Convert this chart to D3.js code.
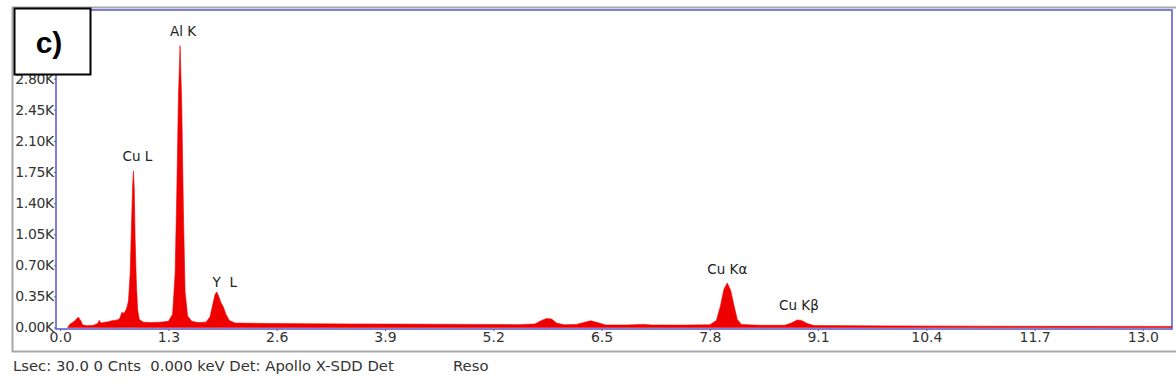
<!DOCTYPE html>
<html><head><meta charset="utf-8">
<script src="https://cdn.jsdelivr.net/npm/d3@7"></script>
<style>body{margin:0;background:#fff}svg{display:block}</style>
</head><body>
<svg id="c" width="1176" height="392"></svg>
<script>
// energy (keV) and counts
const energy = [0.09,0.12,0.17,0.20,0.22,0.25,0.27,0.32,0.40,0.45,0.47,0.49,0.52,0.58,0.62,0.66,0.70,0.72,0.74,0.76,0.78,0.80,0.82,0.84,0.855,0.87,0.88,0.89,0.90,0.915,0.93,0.95,1.00,1.10,1.20,1.30,1.35,1.38,1.40,1.42,1.44,1.46,1.48,1.50,1.53,1.58,1.65,1.75,1.80,1.83,1.86,1.88,1.90,1.93,1.96,1.99,2.03,2.10,2.50,3.00,3.50,4.00,4.50,5.00,5.50,5.70,5.78,5.84,5.90,5.96,6.05,6.20,6.30,6.37,6.45,6.55,6.80,7.00,7.10,7.50,7.80,7.88,7.93,7.97,8.01,8.05,8.09,8.13,8.18,8.40,8.70,8.78,8.85,8.90,8.97,9.05,10.0,11.0,12.0,13.35];
const counts = [0,40,70,100,115,70,30,20,25,45,80,50,55,65,75,80,90,110,170,160,180,220,300,600,1100,1600,1760,1550,1000,500,200,90,60,55,60,70,150,600,1500,2600,3170,2500,1300,400,130,70,55,60,120,250,370,400,360,280,230,150,80,50,45,42,40,38,36,35,32,40,80,100,95,50,30,35,60,75,55,28,28,35,28,27,30,80,250,430,500,420,250,90,35,25,25,50,85,80,45,22,18,15,13,12];
const xTicks = [0.0,1.3,2.6,3.9,5.2,6.5,7.8,9.1,10.4,11.7,13.0];
const yTicks = [0,350,700,1050,1400,1750,2100,2450,2800,3150];
const peakNames = ["Al K","Cu L","Y  L","Cu K\u03b1","Cu K\u03b2"];
const peakEnergy = [1.44,0.88,1.88,8.01,8.87];
const peakCounts = [3170,1760,400,500,87];
const footer = "Lsec: 30.0 0 Cnts  0.000 keV Det: Apollo X-SDD Det";
const footer2 = "Reso";

const svg = d3.select("#c");
const L=56, R=1172, T=10, B=329;
const x = d3.scaleLinear().domain([-0.05,13.35]).range([L,R]);
const y = d3.scaleLinear().domain([0,3573]).range([327.5,T]);
const font = "'DejaVu Sans', Verdana, sans-serif";

// outer grey frame
svg.append("rect").attr("x",12.5).attr("y",7.5).attr("width",1170).attr("height",344)
  .attr("fill","none").attr("stroke","#a8a8a8").attr("stroke-width",2);

// spectrum
const data = energy.map((e,i)=>({e,c:counts[i]}));
const area = d3.area().x(d=>x(d.e)).y0(y(0)).y1(d=>y(d.c));
svg.append("path").datum(data).attr("d",area).attr("fill","#ee0000").attr("stroke","#ee0000").attr("stroke-width",0.6);

// plot frame
svg.append("rect").attr("x",L).attr("y",T).attr("width",R-L).attr("height",B-T)
  .attr("fill","none").attr("stroke","#5555cc").attr("stroke-width",1.5);

// axes
const ya = svg.append("g").attr("transform",`translate(${L},0)`)
  .call(d3.axisLeft(y).tickValues(yTicks).tickSize(2).tickPadding(0)
  .tickFormat(d=>(d/1000).toFixed(2)+"K"));
ya.select(".domain").remove();
ya.selectAll("line").attr("stroke","#666");
ya.selectAll("text").attr("font-family",font).attr("font-size",14).attr("letter-spacing",-0.3).attr("fill","#333");

const xa = svg.append("g").attr("transform",`translate(0,${B})`)
  .call(d3.axisBottom(x).tickValues(xTicks).tickSize(2).tickPadding(1)
  .tickFormat(d3.format(".1f")));
xa.select(".domain").remove();
xa.selectAll("line").attr("stroke","#666");
xa.selectAll("text").attr("font-family",font).attr("font-size",14).attr("fill","#333");

// peak labels
const lblDx = [3,4,8,0,0];
const lblDy = [-10,-10,-5,-9,-10];
svg.selectAll("text.pk").data(peakNames).join("text").attr("class","pk")
  .attr("x",(d,i)=>x(peakEnergy[i])+lblDx[i]).attr("y",(d,i)=>y(peakCounts[i])+lblDy[i])
  .attr("text-anchor","middle").attr("font-family",font).attr("font-size",13.5).attr("fill","#222")
  .attr("xml:space","preserve").style("white-space","pre").text(d=>d);

// footer
svg.append("text").attr("x",13).attr("y",371).attr("font-family",font).attr("font-size",14.8).attr("fill","#333").attr("xml:space","preserve").style("white-space","pre").text(footer);
svg.append("text").attr("x",453).attr("y",371).attr("font-family",font).attr("font-size",14.8).attr("fill","#333").text(footer2);

// panel label box
svg.append("rect").attr("x",14.5).attr("y",8.5).attr("width",76).attr("height",66).attr("fill","#fff").attr("stroke","#000").attr("stroke-width",2);
svg.append("text").attr("x",49).attr("y",53).attr("text-anchor","middle").attr("font-family","'Liberation Sans', Arial, sans-serif")
  .attr("font-weight","bold").attr("font-size",30).attr("fill","#000").text("c)");
</script>
</body></html>
